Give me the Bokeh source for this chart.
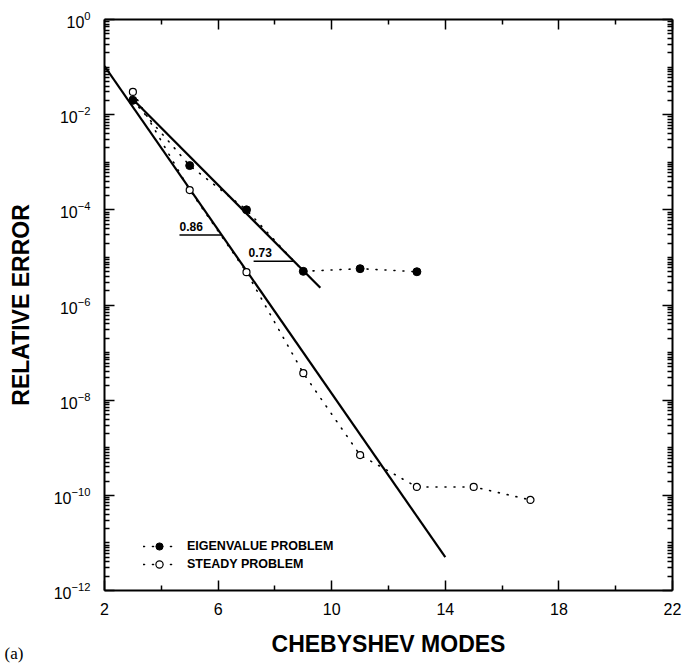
from bokeh.plotting import figure
from bokeh.models import (FixedTicker, LogAxis, LinearAxis, Label, Legend,
                          LegendItem, CustomJSTickFormatter, LogTickFormatter)
from bokeh.embed import file_html
from bokeh.resources import INLINE

# ---- data -------------------------------------------------------------
modes_eig = [3, 5, 7, 9, 11, 13]
err_eig = [2.0e-2, 8.5e-4, 1.0e-4, 5.1e-6, 5.8e-6, 5.0e-6]

modes_std = [3, 5, 7, 9, 11, 13, 15, 17]
err_std = [3.0e-2, 2.6e-4, 4.9e-6, 3.7e-8, 7.0e-10, 1.5e-10, 1.5e-10, 8.0e-11]

# straight convergence fits (end points)
fit_std_x = [2.0, 14.0]
fit_std_y = [1.05e-1, 5.0e-12]
fit_eig_x = [2.9, 9.6]
fit_eig_y = [2.4e-2, 2.3e-6]

# slope annotations: text, underline start, underline end, level, text x
slope_text = ["0.86", "0.73"]
slope_x0 = [4.64, 7.25]
slope_x1 = [6.13, 8.67]
slope_level = [10 ** -4.53, 10 ** -5.08]
slope_text_x = [4.64, 7.07]

x_ticks = [2, 6, 10, 14, 18, 22]
x_minor = [4, 8, 12, 16, 20]
y_label_exps = [0, -2, -4, -6, -8, -10, -12]
y_decades = list(range(-12, 1))

FONT = "Liberation Sans"

# ---- figure -----------------------------------------------------------
p = figure(width=683, height=667, y_axis_type="log",
           x_range=(2, 22), y_range=(1e-12, 1),
           output_backend="svg", toolbar_location=None,
           min_border_left=104, min_border_right=11,
           min_border_top=18, min_border_bottom=77)
p.outline_line_color = None
p.xgrid.grid_line_color = None
p.ygrid.grid_line_color = None
p.background_fill_color = "white"
p.border_fill_color = "white"

y_major = [10.0 ** k for k in y_label_exps]
y_minor = [m * 10.0 ** k for k in y_decades[:-1] for m in range(1, 10)
           if not (m == 1 and k in y_label_exps)]
yticker = FixedTicker(ticks=y_major, minor_ticks=y_minor)
xticker = FixedTicker(ticks=x_ticks, minor_ticks=x_minor)
blank = CustomJSTickFormatter(code="return ''")


def style_axis(ax, major_in=10, minor_in=5):
    ax.axis_line_width = 2
    ax.axis_line_color = "black"
    ax.major_tick_in = major_in
    ax.major_tick_out = 0
    ax.minor_tick_in = minor_in
    ax.minor_tick_out = 0
    ax.major_tick_line_width = 1.5
    ax.minor_tick_line_width = 1.5
    ax.major_tick_line_color = "black"
    ax.minor_tick_line_color = "black"


xb = p.xaxis[0]
xb.ticker = xticker
style_axis(xb)
xb.major_label_text_font = FONT
xb.major_label_text_font_size = "16px"
xb.major_label_text_color = "black"
xb.major_label_standoff = 12
xb.axis_label = "CHEBYSHEV MODES"
xb.axis_label_text_font = FONT
xb.axis_label_text_font_style = "bold"
xb.axis_label_text_font_size = "23px"
xb.axis_label_text_color = "black"
xb.axis_label_standoff = 13

yl = p.yaxis[0]
yl.ticker = yticker
yl.formatter = LogTickFormatter()
style_axis(yl, major_in=10, minor_in=5)
yl.major_label_text_font = FONT
yl.major_label_text_font_size = "16px"
yl.major_label_text_color = "black"
yl.major_label_standoff = 14
yl.axis_label = "RELATIVE ERROR"
yl.axis_label_text_font = FONT
yl.axis_label_text_font_style = "bold"
yl.axis_label_text_font_size = "23px"
yl.axis_label_text_color = "black"
yl.axis_label_standoff = 17

xt = LinearAxis(ticker=xticker, formatter=blank, major_label_standoff=0)
style_axis(xt)
p.add_layout(xt, "above")

yr = LogAxis(ticker=yticker, formatter=blank, major_label_standoff=0)
style_axis(yr, major_in=10, minor_in=5)
p.add_layout(yr, "right")

# panel tag, positioned from the lower-left corner of the axes
p.add_layout(Label(x=2, y=1e-12, text="(a)", x_offset=-100, y_offset=-72,
                   text_align="left", text_baseline="bottom",
                   text_font="Liberation Serif", text_font_size="17px",
                   text_color="black"), "above")

# ---- series -----------------------------------------------------------
dot = dict(line_color="black", line_width=1.6, line_dash="1 8", line_cap="round")
l_eig = p.line(modes_eig, err_eig, **dot)
l_std = p.line(modes_std, err_std, **dot)

p.line(fit_std_x, fit_std_y, line_color="black", line_width=2.2)
p.line(fit_eig_x, fit_eig_y, line_color="black", line_width=2.2)

for tx, x0, x1, lv, txt_x in zip(slope_text, slope_x0, slope_x1, slope_level, slope_text_x):
    p.line([x0, x1], [lv, lv], line_color="black", line_width=1.6)
    p.add_layout(Label(x=txt_x, y=lv, text=tx, y_offset=4, text_align="left",
                       text_baseline="bottom", text_font=FONT,
                       text_font_style="bold", text_font_size="12px",
                       text_color="black"))

s_eig = p.scatter(modes_eig, err_eig, marker="circle", size=8,
                  fill_color="black", line_color="black")
s_std = p.scatter(modes_std, err_std, marker="circle", size=7,
                  fill_color="white", line_color="black", line_width=1.2)

legend = Legend(items=[LegendItem(label="EIGENVALUE PROBLEM", renderers=[l_eig, s_eig]),
                       LegendItem(label="STEADY PROBLEM", renderers=[l_std, s_std])],
                location=(39, 17), margin=0, padding=0, spacing=0,
                glyph_width=32, glyph_height=18, label_height=18,
                label_standoff=12, border_line_color=None,
                background_fill_alpha=0,
                label_text_font=FONT, label_text_font_style="bold",
                label_text_font_size="12.5px", label_text_color="black")
p.add_layout(legend)

open("out.html", "w").write(file_html(p, INLINE))
